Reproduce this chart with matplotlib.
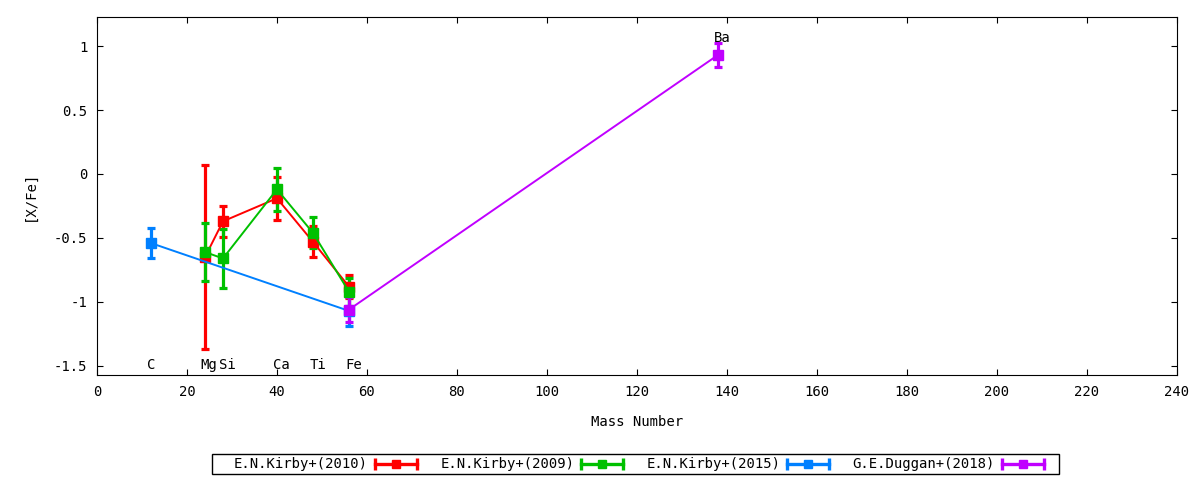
import matplotlib
matplotlib.use("Agg")
import matplotlib.pyplot as plt
from matplotlib.lines import Line2D
from matplotlib.patches import Rectangle
from matplotlib.legend_handler import HandlerBase

plt.rcParams['font.family'] = ['DejaVu Sans Mono']
plt.rcParams['font.size'] = 10

# element positions (mass number) and abundances
kirby2010_mass = [24, 28, 40, 48, 56]
kirby2010_val = [-0.65, -0.37, -0.19, -0.53, -0.88]
kirby2010_err = [0.72, 0.12, 0.17, 0.12, 0.09]

kirby2009_mass = [24, 28, 40, 48, 56]
kirby2009_val = [-0.61, -0.66, -0.12, -0.46, -0.92]
kirby2009_err = [0.225, 0.23, 0.17, 0.12, 0.11]

kirby2015_mass = [12, 56]
kirby2015_val = [-0.54, -1.07]
kirby2015_err = [0.12, 0.12]

duggan2018_mass = [56, 138]
duggan2018_val = [-1.06, 0.93]
duggan2018_err = [0.1, 0.095]

elements = ["C", "Mg", "Si", "Ca", "Ti", "Fe", "Ba"]
element_x = [12, 24.9, 28.9, 40.9, 49.1, 57.1, 138.9]
element_y = [-1.49, -1.49, -1.49, -1.49, -1.49, -1.49, 1.06]

series = [
    ("E.N.Kirby+(2010)", kirby2010_mass, kirby2010_val, kirby2010_err, "#ff0000"),
    ("E.N.Kirby+(2009)", kirby2009_mass, kirby2009_val, kirby2009_err, "#00c000"),
    ("E.N.Kirby+(2015)", kirby2015_mass, kirby2015_val, kirby2015_err, "#0080ff"),
    ("G.E.Duggan+(2018)", duggan2018_mass, duggan2018_val, duggan2018_err, "#c000ff"),
]


# gnuplot-like legend sample: horizontal bar with caps and a point in the middle
class ErrSample(HandlerBase):
    def create_artists(self, legend, orig_handle, xdescent, ydescent,
                       width, height, fontsize, trans):
        c = orig_handle.get_color()
        y = height / 2 - ydescent
        x0 = -xdescent + 1
        x1 = width - xdescent - 1
        bar = Line2D([x0, x1], [y, y], color=c, lw=2.4, transform=trans)
        caps = Line2D([x0, x1], [y, y], color=c, ls='none', marker='|',
                      markersize=8, mew=2.4, transform=trans)
        pt = Line2D([(x0 + x1) / 2], [y], color=c, ls='none', marker='s',
                    markersize=6, transform=trans)
        return [bar, caps, pt]


fig = plt.figure(figsize=(12, 4.8), dpi=100)
ax = fig.add_axes([0.0808, 0.219, 0.9, 0.7456])

handles = []
for name, m, v, e, c in series:
    ax.errorbar(m, v, yerr=e, color=c, lw=1.4, elinewidth=2.3, capsize=3,
                capthick=2.3, marker='s', markersize=7)
    handles.append(Line2D([], [], color=c, label=name))

for t, x, y in zip(elements, element_x, element_y):
    ax.text(x, y, t, ha='center', va='center')

ax.set_xlim(0, 240)
ax.set_ylim(-1.57, 1.227)
ax.set_xticks(range(0, 241, 20))
ax.set_yticks([1, 0.5, 0, -0.5, -1, -1.5])
ax.set_yticklabels(["1", "0.5", "0", "-0.5", "-1", "-1.5"])
ax.tick_params(direction='in', top=True, right=True, length=4, pad=7)
ax.set_xlabel("Mass Number", labelpad=12)
ax.set_ylabel("[X/Fe]", labelpad=12)

leg = fig.legend(handles=handles, handler_map={Line2D: ErrSample()},
                 loc='center', bbox_to_anchor=(0.533, 0.0323), ncol=4,
                 markerfirst=False, frameon=False, handlelength=3.2,
                 columnspacing=1.6, borderpad=0.15, borderaxespad=0,
                 handletextpad=0.4)

# frame like gnuplot's key box, wider on the left than the entries
fig.canvas.draw()
bb = leg.get_window_extent().transformed(fig.transFigure.inverted())
pad_l = 20 / 1200
pad_r = 12 / 1200
box_h = 20 / 480
yc = bb.y0 + bb.height / 2
fig.patches.append(Rectangle((bb.x0 - pad_l, yc - box_h / 2),
                             bb.width + pad_l + pad_r, box_h,
                             transform=fig.transFigure, fill=False,
                             edgecolor='black', lw=1.0))

fig.savefig("out.png", dpi=100)
